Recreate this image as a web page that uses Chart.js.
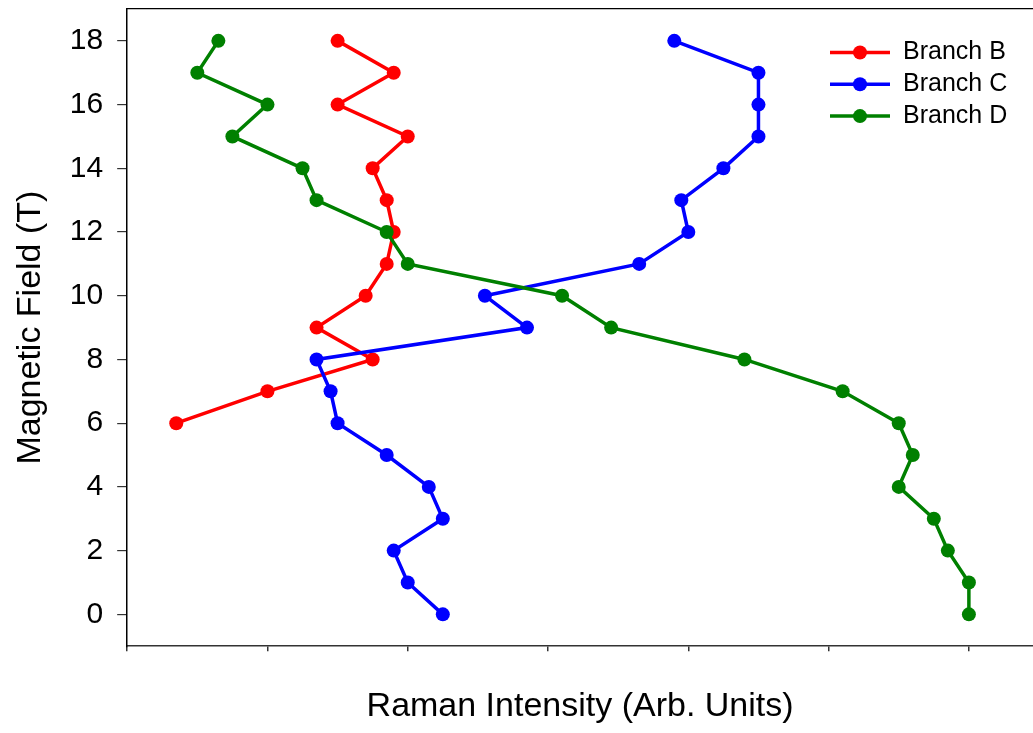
<!DOCTYPE html>
<html lang="en">
<head>
<meta charset="UTF-8">
<title>Raman Intensity vs Magnetic Field</title>
<style>
    body {
        margin: 0;
        background-color: #ffffff;
    }

    .chart-container {
        width: 1033px;
        height: 733px;
    }
</style>
</head>
<body>
<div class="chart-container">
    <canvas id="ramanChart" width="1033" height="733"></canvas>
</div>

<script src="https://cdn.jsdelivr.net/npm/chart.js"></script>
<script>
    // Branch B (red)
    const fieldB = [18, 17, 16, 15, 14, 13, 12, 11, 10, 9, 8, 7, 6];
    const intensityB = [1.5, 1.9, 1.5, 2.0, 1.75, 1.85, 1.9, 1.85, 1.7, 1.35, 1.75, 1.0, 0.35];

    // Branch C (blue)
    const fieldC = [18, 17, 16, 15, 14, 13, 12, 11, 10, 9, 8, 7, 6, 5, 4, 3, 2, 1, 0];
    const intensityC = [3.9, 4.5, 4.5, 4.5, 4.25, 3.95, 4.0, 3.65, 2.55, 2.85, 1.35, 1.45, 1.5, 1.85, 2.15, 2.25, 1.9, 2.0, 2.25];

    // Branch D (green)
    const fieldD = [18, 17, 16, 15, 14, 13, 12, 11, 10, 9, 8, 7, 6, 5, 4, 3, 2, 1, 0];
    const intensityD = [0.65, 0.5, 1.0, 0.75, 1.25, 1.35, 1.85, 2.0, 3.1, 3.45, 4.4, 5.1, 5.5, 5.6, 5.5, 5.75, 5.85, 6.0, 6.0];

    const seriesNames = ['Branch B', 'Branch C', 'Branch D'];
    const xTickValues = [0, 1, 2, 3, 4, 5, 6];
    const yTickValues = [0, 2, 4, 6, 8, 10, 12, 14, 16, 18];

    const fontFamily = '"Liberation Sans", Arial, sans-serif';
    Chart.defaults.font.family = fontFamily;
    Chart.defaults.color = '#000000';

    function toPoints(xs, ys) {
        return xs.map((x, i) => ({ x: x, y: ys[i] }));
    }

    function makeSeries(label, xs, ys, color, order) {
        return {
            label: label,
            data: toPoints(xs, ys),
            showLine: true,
            borderColor: color,
            backgroundColor: color,
            borderWidth: 3.5,
            pointRadius: 7,
            pointBorderWidth: 0,
            pointBackgroundColor: color,
            order: order
        };
    }

    // line + marker legend drawn inside the plot, top right
    const lineLegend = {
        id: 'lineLegend',
        afterDraw(chart) {
            const ctx = chart.ctx;
            const area = chart.chartArea;
            ctx.save();
            chart.data.datasets.forEach((ds, i) => {
                const y = area.top + 43.5 + i * 31.8;
                ctx.strokeStyle = ds.borderColor;
                ctx.lineWidth = 3.5;
                ctx.beginPath();
                ctx.moveTo(area.right - 203, y);
                ctx.lineTo(area.right - 143, y);
                ctx.stroke();
                ctx.fillStyle = ds.borderColor;
                ctx.beginPath();
                ctx.arc(area.right - 173, y, 7, 0, Math.PI * 2);
                ctx.fill();
                ctx.fillStyle = '#000000';
                ctx.font = '25px ' + fontFamily;
                ctx.textAlign = 'left';
                ctx.textBaseline = 'middle';
                ctx.fillText(ds.label, area.right - 130, y);
            });
            ctx.restore();
        }
    };

    const ctx = document.getElementById('ramanChart').getContext('2d');
    const ramanChart = new Chart(ctx, {
        type: 'scatter',
        data: {
            datasets: [
                makeSeries(seriesNames[0], intensityB, fieldB, '#ff0000', 3),
                makeSeries(seriesNames[1], intensityC, fieldC, '#0000ff', 2),
                makeSeries(seriesNames[2], intensityD, fieldD, '#008000', 1)
            ]
        },
        options: {
            responsive: false,
            animation: false,
            layout: {
                autoPadding: false,
                padding: { top: 9, left: 0, right: 0, bottom: 0 }
            },
            plugins: {
                legend: { display: false },
                tooltip: { enabled: false }
            },
            scales: {
                x: {
                    type: 'linear',
                    position: 'bottom',
                    min: 0,
                    max: 6.457,
                    afterBuildTicks: (scale) => {
                        scale.ticks = xTickValues.map(v => ({ value: v }));
                    },
                    ticks: { display: false },
                    grid: {
                        drawOnChartArea: false,
                        drawTicks: true,
                        tickLength: 5,
                        color: '#333333',
                        lineWidth: 1.5
                    },
                    border: { color: '#333333', width: 1.5 },
                    title: {
                        display: true,
                        text: 'Raman Intensity (Arb. Units)',
                        font: { size: 34 },
                        padding: { top: 35, bottom: 6 }
                    }
                },
                x2: {
                    type: 'linear',
                    position: 'top',
                    min: 0,
                    max: 1,
                    ticks: { display: false },
                    grid: { drawOnChartArea: false, drawTicks: false },
                    border: { color: '#000000', width: 1.2 }
                },
                y: {
                    type: 'linear',
                    min: -1,
                    max: 19,
                    afterBuildTicks: (scale) => {
                        scale.ticks = yTickValues.map(v => ({ value: v }));
                    },
                    afterFit: (scale) => {
                        scale.paddingTop = 0;
                        scale.paddingBottom = 0;
                    },
                    ticks: {
                        font: { size: 30 },
                        padding: 14,
                        color: '#000000'
                    },
                    grid: {
                        drawOnChartArea: false,
                        drawTicks: true,
                        tickLength: 10,
                        color: '#333333',
                        lineWidth: 1.2
                    },
                    border: { color: '#000000', width: 1.5 },
                    title: {
                        display: true,
                        text: 'Magnetic Field (T)',
                        font: { size: 34 },
                        padding: { top: 10, bottom: 5 }
                    }
                }
            }
        },
        plugins: [lineLegend]
    });
</script>
</body>
</html>
